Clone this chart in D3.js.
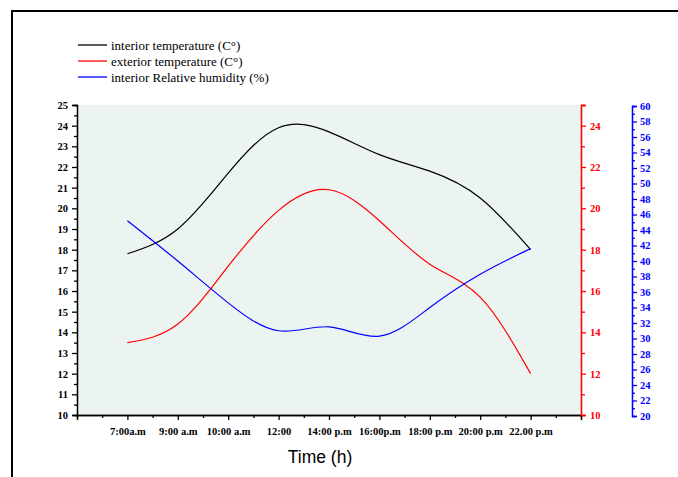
<!DOCTYPE html>
<html>
<head>
<meta charset="utf-8">
<script src="https://cdn.jsdelivr.net/npm/d3@7"></script>
<style>
  body { margin: 0; background: #fff; }
  svg { display: block; }
</style>
</head>
<body>
<div id="chart"></div>
<script>
// categories (x axis)
const timeLabels = ["7:00a.m", "9:00 a.m", "10:00 a.m", "12:00", "14:00 p.m", "16:00p.m", "18:00 p.m", "20:00 p.m", "22.00 p.m"];
// series values
const interiorTemp = [17.8, 19.0, 21.7, 23.9, 23.7, 22.6, 21.8, 20.5, 18.0];
const exteriorTemp = [13.5, 14.4, 17.2, 19.9, 20.9, 19.4, 17.3, 15.7, 12.0];
const humidity = [45.2, 40.0, 34.6, 31.0, 31.5, 30.3, 34.0, 38.3, 41.6];
const legendLabels = ["interior temperature (C°)", "exterior temperature (C°)", "interior Relative humidity (%)"];

const width = 678, height = 477;
const margin = { top: 105, right: 97, bottom: 62, left: 77 };
const serif = "'Liberation Serif', 'Times New Roman', serif";
const red = "#ff0000", blue = "#0000ff";

const svg = d3.select("#chart").append("svg")
  .attr("width", width).attr("height", height);

// cadre extérieur
svg.append("path")
  .attr("d", `M12,${height} L12,11 L${width},11`)
  .attr("fill", "none").attr("stroke", "#000").attr("stroke-width", 2);

const x = d3.scaleLinear().domain([-1, 9]).range([margin.left, width - margin.right]);
const yLeft = d3.scaleLinear().domain([10, 25]).range([height - margin.bottom, margin.top]);
const yRed = d3.scaleLinear().domain([10, 25]).range([height - margin.bottom, margin.top]);
const yBlue = d3.scaleLinear().domain([20, 60]).range([height - margin.bottom + 1, margin.top + 1]);

// fond de la zone de tracé
svg.append("rect")
  .attr("x", x(-1)).attr("y", yLeft(25))
  .attr("width", x(9) - x(-1)).attr("height", yLeft(10) - yLeft(25))
  .attr("fill", "#ecf4f2");

function styleAxis(g, color) {
  g.selectAll("path").attr("stroke", color).attr("stroke-width", 1.3);
  g.selectAll("line").attr("stroke", color).attr("stroke-width", 1.3);
  g.selectAll("text")
    .attr("fill", color)
    .style("font-family", serif)
    .style("font-weight", "bold")
    .style("font-size", "10.5px");
}

// axe gauche : majeurs + mineurs
svg.append("g")
  .attr("transform", `translate(${margin.left},0)`)
  .call(d3.axisLeft(yLeft).tickValues(d3.range(10.5, 25, 1)).tickSize(3).tickFormat(""))
  .call((g) => styleAxis(g, "#000"));
svg.append("g")
  .attr("transform", `translate(${margin.left},0)`)
  .call(d3.axisLeft(yLeft).tickValues(d3.range(10, 26, 1)).tickSize(5).tickPadding(4).tickFormat(d3.format("d")))
  .call((g) => styleAxis(g, "#000"));

// axe bas
svg.append("g")
  .attr("transform", `translate(0,${height - margin.bottom})`)
  .call(d3.axisBottom(x).tickValues(d3.range(-0.5, 9, 1)).tickSize(3).tickFormat(""))
  .call((g) => styleAxis(g, "#000"));
svg.append("g")
  .attr("transform", `translate(0,${height - margin.bottom})`)
  .call(d3.axisBottom(x).tickValues(d3.range(-1, 10, 1)).tickSize(5).tickPadding(8)
    .tickFormat((d) => (d >= 0 && d < timeLabels.length ? timeLabels[d] : "")))
  .call((g) => styleAxis(g, "#000"));

// axe rouge (droite)
svg.append("g")
  .attr("transform", `translate(${width - margin.right},0)`)
  .call(d3.axisRight(yRed).tickValues(d3.range(11, 26, 2)).tickSize(4).tickFormat(""))
  .call((g) => styleAxis(g, red));
svg.append("g")
  .attr("transform", `translate(${width - margin.right},0)`)
  .call(d3.axisRight(yRed).tickValues(d3.range(10, 25, 2)).tickSize(5).tickPadding(4).tickFormat(d3.format("d")))
  .call((g) => styleAxis(g, red));

// axe bleu (droite, décalé)
const blueX = 632;
svg.append("g")
  .attr("transform", `translate(${blueX},0)`)
  .call(d3.axisRight(yBlue).tickValues(d3.range(21, 60, 2)).tickSize(3).tickFormat(""))
  .call((g) => styleAxis(g, blue));
svg.append("g")
  .attr("transform", `translate(${blueX},0)`)
  .call(d3.axisRight(yBlue).tickValues(d3.range(20, 61, 2)).tickSize(5).tickPadding(3).tickFormat(d3.format("d")))
  .call((g) => styleAxis(g, blue));

// courbes
const series = [
  { values: interiorTemp, scale: yLeft, color: "#000" },
  { values: exteriorTemp, scale: yRed, color: red },
  { values: humidity, scale: yBlue, color: blue },
];
series.forEach((s) => {
  const line = d3.line()
    .x((d, i) => x(i))
    .y((d) => s.scale(d))
    .curve(d3.curveNatural);
  svg.append("path")
    .datum(s.values)
    .attr("d", line)
    .attr("fill", "none")
    .attr("stroke", s.color)
    .attr("stroke-width", 1.2);
});

// légende
const legend = svg.append("g").attr("transform", "translate(78,45)");
legendLabels.forEach((label, i) => {
  legend.append("line")
    .attr("x1", 0).attr("x2", 29)
    .attr("y1", i * 16).attr("y2", i * 16)
    .attr("stroke", series[i].color).attr("stroke-width", 1.3);
  legend.append("text")
    .attr("x", 33).attr("y", i * 16 + 0.5)
    .attr("dominant-baseline", "central")
    .style("font-family", serif)
    .style("font-size", "13px")
    .text(label);
});

// titre axe X
svg.append("text")
  .attr("x", 320)
  .attr("y", 463)
  .attr("text-anchor", "middle")
  .style("font-family", "'Liberation Sans', Arial, sans-serif")
  .style("font-size", "17.5px")
  .text("Time (h)");
</script>
</body>
</html>
